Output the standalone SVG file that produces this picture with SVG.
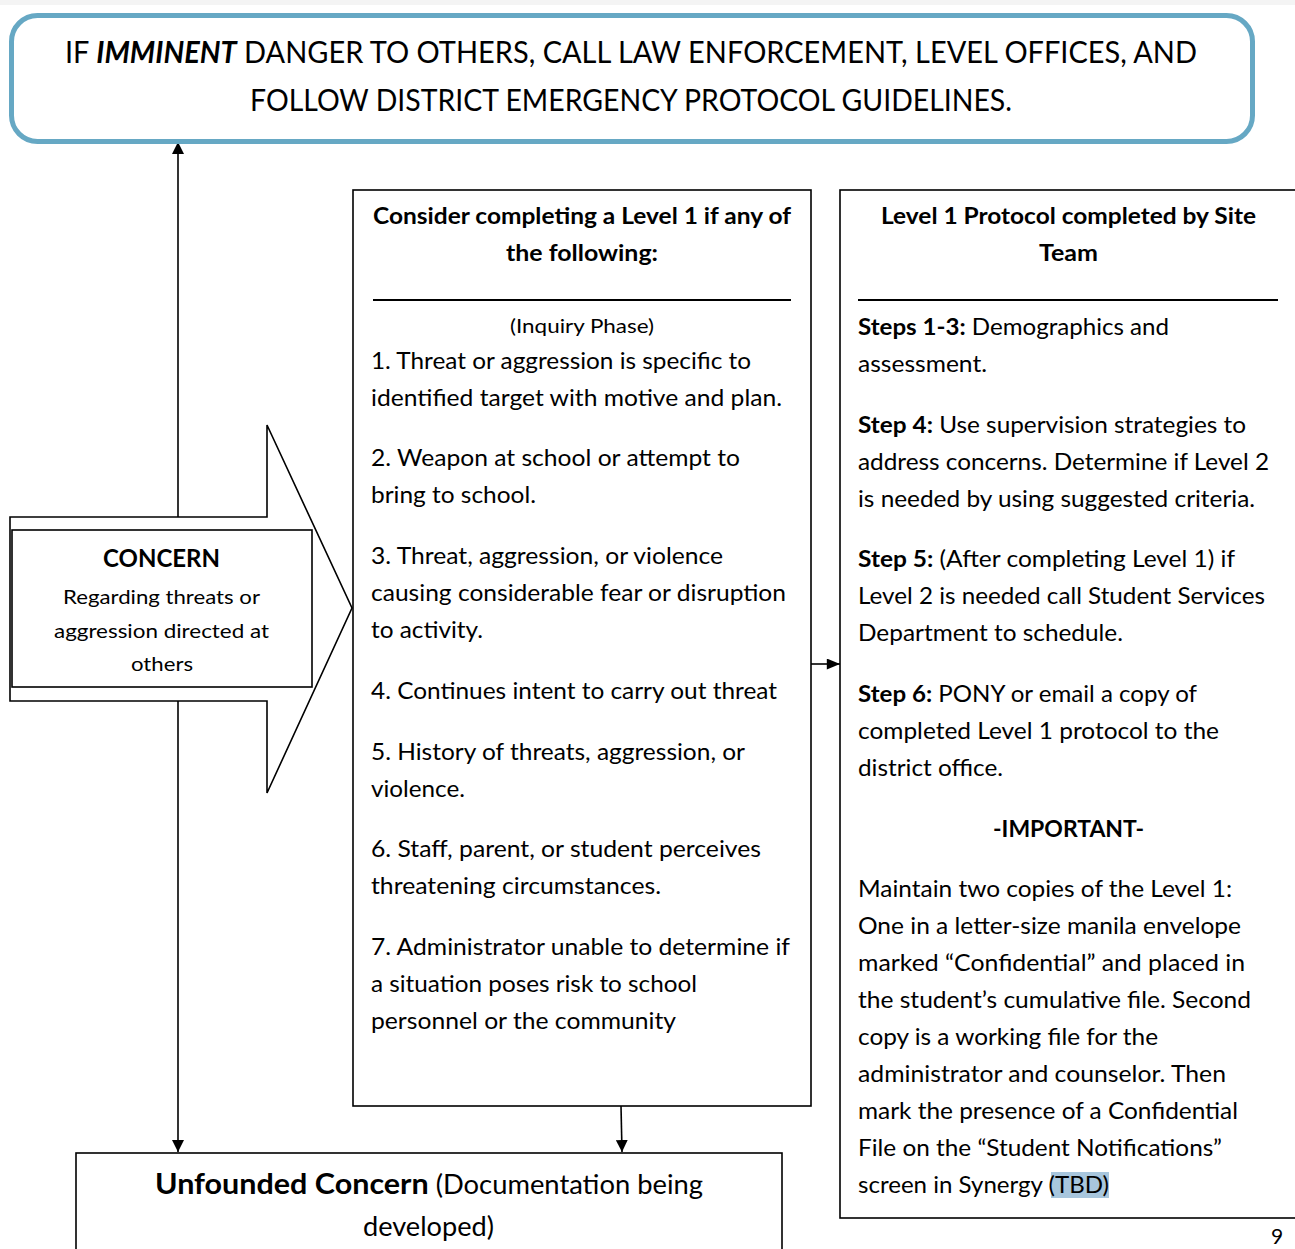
<svg xmlns="http://www.w3.org/2000/svg" width="1295" height="1249" viewBox="0 0 1295 1249">
<style>
text{font-family:Lato,"Open Sans","Liberation Sans",sans-serif;fill:#000}
.b{font-weight:bold}
.body{font-size:23px}
.hd{font-size:23px;font-weight:bold}
.box{fill:#fff;stroke:#000;stroke-width:1.6}
.ln{stroke:#000;stroke-width:1.6;fill:none}
</style>
<defs>
<marker id="ah" viewBox="0 0 10 10" refX="10" refY="5" markerWidth="12" markerHeight="12" markerUnits="userSpaceOnUse" orient="auto">
<path d="M0,0 L10,5 L0,10 z" fill="#000"/>
</marker>
<marker id="ah2" viewBox="0 0 12 10" refX="12" refY="5" markerWidth="14" markerHeight="11" markerUnits="userSpaceOnUse" orient="auto">
<path d="M0,0 L12,5 L0,10 z" fill="#000"/>
</marker>
</defs>
<rect width="1295" height="1249" fill="#fff"/>
<rect width="1295" height="5" fill="#f4f4f4"/>

<g id="connectors">
<line class="ln" x1="178" y1="517" x2="178" y2="142" marker-end="url(#ah)"/>
<line class="ln" x1="178" y1="701" x2="178" y2="1152" marker-end="url(#ah)"/>
<line class="ln" x1="621" y1="1106" x2="622" y2="1152" marker-end="url(#ah)"/>
<line class="ln" x1="811" y1="664" x2="840" y2="664" marker-end="url(#ah2)"/>
</g>

<g id="emergency">
<rect x="11.5" y="15.5" width="1241" height="126" rx="26" fill="#fff" stroke="#66a8c4" stroke-width="5"/>
<text x="65" y="63" font-size="30" textLength="1132" lengthAdjust="spacingAndGlyphs">IF <tspan class="b" font-style="italic">IMMINENT</tspan> DANGER TO OTHERS, CALL LAW ENFORCEMENT, LEVEL OFFICES, AND</text>
<text x="250" y="111" font-size="30" textLength="762" lengthAdjust="spacingAndGlyphs">FOLLOW DISTRICT EMERGENCY PROTOCOL GUIDELINES.</text>
</g>

<g id="concern">
<path class="box" d="M10,517 L267,517 L267,425 L352,608 L267,793 L267,701 L10,701 Z"/>
<rect class="box" x="12" y="530" width="300" height="157"/>
<text x="103" y="567" class="b" font-size="24" textLength="117" lengthAdjust="spacingAndGlyphs">CONCERN</text>
<text x="63" y="604" font-size="20" textLength="197" lengthAdjust="spacingAndGlyphs">Regarding threats or</text>
<text x="54" y="638" font-size="20" textLength="215" lengthAdjust="spacingAndGlyphs">aggression directed at</text>
<text x="131" y="671" font-size="20" textLength="62" lengthAdjust="spacingAndGlyphs">others</text>
</g>

<g id="level1-criteria">
<rect class="box" x="353" y="190" width="458" height="916"/>
<text x="373" y="224" class="hd" textLength="418" lengthAdjust="spacingAndGlyphs">Consider completing a Level 1 if any of</text>
<text x="506" y="261" class="hd" textLength="152" lengthAdjust="spacingAndGlyphs">the following:</text>
<line x1="373" y1="300" x2="791" y2="300" stroke="#000" stroke-width="2"/>
<text x="510" y="333" font-size="20" textLength="144" lengthAdjust="spacingAndGlyphs">(Inquiry Phase)</text>
<g class="body">
<text x="371" y="369" textLength="380" lengthAdjust="spacingAndGlyphs">1. Threat or aggression is specific to</text>
<text x="371" y="406" textLength="411" lengthAdjust="spacingAndGlyphs">identified target with motive and plan.</text>
<text x="371" y="466" textLength="369" lengthAdjust="spacingAndGlyphs">2. Weapon at school or attempt to</text>
<text x="371" y="503" textLength="165" lengthAdjust="spacingAndGlyphs">bring to school.</text>
<text x="371" y="564" textLength="352" lengthAdjust="spacingAndGlyphs">3. Threat, aggression, or violence</text>
<text x="371" y="601" textLength="415" lengthAdjust="spacingAndGlyphs">causing considerable fear or disruption</text>
<text x="371" y="638" textLength="112" lengthAdjust="spacingAndGlyphs">to activity.</text>
<text x="371" y="699" textLength="406" lengthAdjust="spacingAndGlyphs">4. Continues intent to carry out threat</text>
<text x="371" y="760" textLength="374" lengthAdjust="spacingAndGlyphs">5. History of threats, aggression, or</text>
<text x="371" y="797" textLength="94" lengthAdjust="spacingAndGlyphs">violence.</text>
<text x="371" y="857" textLength="390" lengthAdjust="spacingAndGlyphs">6. Staff, parent, or student perceives</text>
<text x="371" y="894" textLength="290" lengthAdjust="spacingAndGlyphs">threatening circumstances.</text>
<text x="371" y="955" textLength="419" lengthAdjust="spacingAndGlyphs">7. Administrator unable to determine if</text>
<text x="371" y="992" textLength="326" lengthAdjust="spacingAndGlyphs">a situation poses risk to school</text>
<text x="371" y="1029" textLength="305" lengthAdjust="spacingAndGlyphs">personnel or the community</text>
</g>
</g>

<g id="level1-protocol">
<rect class="box" x="840" y="190" width="470" height="1028"/>
<text x="881" y="224" class="hd" textLength="375" lengthAdjust="spacingAndGlyphs">Level 1 Protocol completed by Site</text>
<text x="1039" y="261" class="hd" textLength="59" lengthAdjust="spacingAndGlyphs">Team</text>
<line x1="858" y1="300" x2="1278" y2="300" stroke="#000" stroke-width="2"/>
<rect x="1051" y="1172" width="58" height="26" fill="#a8c6dd"/>
<g class="body">
<text x="858" y="335" textLength="311" lengthAdjust="spacingAndGlyphs"><tspan class="b">Steps 1-3:</tspan> Demographics and</text>
<text x="858" y="372" textLength="129" lengthAdjust="spacingAndGlyphs">assessment.</text>
<text x="858" y="433" textLength="388" lengthAdjust="spacingAndGlyphs"><tspan class="b">Step 4:</tspan> Use supervision strategies to</text>
<text x="858" y="470" textLength="411" lengthAdjust="spacingAndGlyphs">address concerns. Determine if Level 2</text>
<text x="858" y="507" textLength="397" lengthAdjust="spacingAndGlyphs">is needed by using suggested criteria.</text>
<text x="858" y="567" textLength="377" lengthAdjust="spacingAndGlyphs"><tspan class="b">Step 5:</tspan> (After completing Level 1) if</text>
<text x="858" y="604" textLength="407" lengthAdjust="spacingAndGlyphs">Level 2 is needed call Student Services</text>
<text x="858" y="641" textLength="265" lengthAdjust="spacingAndGlyphs">Department to schedule.</text>
<text x="858" y="702" textLength="339" lengthAdjust="spacingAndGlyphs"><tspan class="b">Step 6:</tspan> PONY or email a copy of</text>
<text x="858" y="739" textLength="361" lengthAdjust="spacingAndGlyphs">completed Level 1 protocol to the</text>
<text x="858" y="776" textLength="145" lengthAdjust="spacingAndGlyphs">district office.</text>
<text x="993" y="837" class="b" textLength="151" lengthAdjust="spacingAndGlyphs">-IMPORTANT-</text>
<text x="858" y="897" textLength="374" lengthAdjust="spacingAndGlyphs">Maintain two copies of the Level 1:</text>
<text x="858" y="934" textLength="383" lengthAdjust="spacingAndGlyphs">One in a letter-size manila envelope</text>
<text x="858" y="971" textLength="387" lengthAdjust="spacingAndGlyphs">marked “Confidential” and placed in</text>
<text x="858" y="1008" textLength="393" lengthAdjust="spacingAndGlyphs">the student’s cumulative file. Second</text>
<text x="858" y="1045" textLength="300" lengthAdjust="spacingAndGlyphs">copy is a working file for the</text>
<text x="858" y="1082" textLength="368" lengthAdjust="spacingAndGlyphs">administrator and counselor. Then</text>
<text x="858" y="1119" textLength="380" lengthAdjust="spacingAndGlyphs">mark the presence of a Confidential</text>
<text x="858" y="1156" textLength="364" lengthAdjust="spacingAndGlyphs">File on the “Student Notifications”</text>
<text x="858" y="1193" textLength="251" lengthAdjust="spacingAndGlyphs">screen in Synergy (TBD)</text>
</g>
</g>

<g id="unfounded">
<rect class="box" x="76" y="1153" width="706" height="120"/>
<text x="155" y="1194" font-size="26" textLength="548" lengthAdjust="spacingAndGlyphs"><tspan class="b" font-size="29">Unfounded Concern</tspan> (Documentation being</text>
<text x="363" y="1236" font-size="26" textLength="131" lengthAdjust="spacingAndGlyphs">developed)</text>
</g>

<text x="1271" y="1244" font-size="21">9</text>
</svg>
